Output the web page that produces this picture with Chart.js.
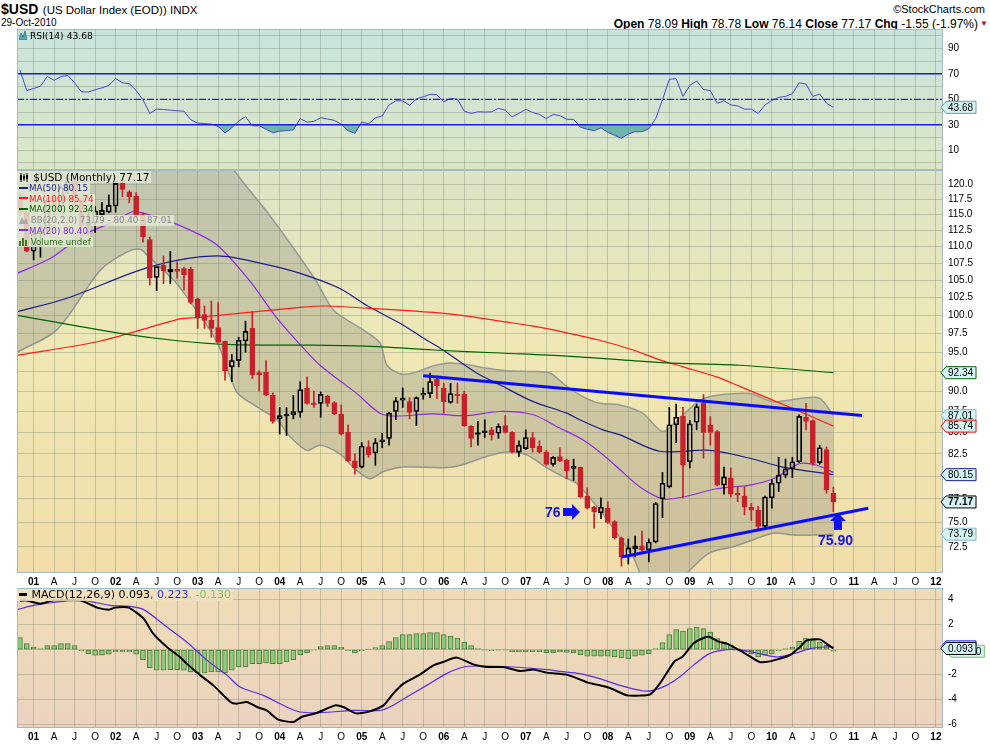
<!DOCTYPE html>
<html>
<head>
<meta charset="utf-8">
<script src="https://cdn.jsdelivr.net/npm/chart.js@4.4.0/dist/chart.umd.min.js"></script>
<style>
  body { margin: 0; background: #fff; width: 990px; height: 744px; position: relative; overflow: hidden; font-family: "Liberation Sans", Arial, sans-serif; }
  canvas { position: absolute; left: 0; }
  .t { position: absolute; white-space: nowrap; }
  .leg { position: absolute; font-family: "DejaVu Sans", Verdana, sans-serif; }
  .row { display: table; background: rgba(226,231,210,0.85); padding-right: 2px; }
  .sw { display: inline-block; width: 9px; height: 2px; vertical-align: middle; margin: 0 1px 0 2px; position: relative; top: -1px; }
</style>
</head>
<body>

<div class="t" style="left:1px;top:0;line-height:18px"><b style="font-size:14px">$USD</b> <span style="font-size:11.5px">(US Dollar Index (EOD)) INDX</span></div>
<div class="t" style="left:1px;top:17px;font-size:10px;line-height:12px">29-Oct-2010</div>
<div class="t" style="right:5px;top:2px;font-size:11px;line-height:14px">©StockCharts.com</div>
<div class="t" style="right:12px;top:17px;font-size:12px;line-height:14px"><b>Open</b> 78.09 <b>High</b> 78.78 <b>Low</b> 76.14 <b>Close</b> 77.17 <b>Chg</b> -1.55 (-1.97%)</div>
<div class="t" style="right:2px;top:19px;font-size:8px;color:#a0102a">&#9660;</div>

<canvas id="rsi" width="990" height="141" style="top:29px"></canvas>
<canvas id="main" width="990" height="419" style="top:170px"></canvas>
<canvas id="macd" width="990" height="156" style="top:588px"></canvas>

<div class="leg" style="left:19px;top:30px;font-size:9.2px;line-height:12px">
  <svg width="8" height="9" style="vertical-align:-1px"><polygon points="0,9 2,2 4,6 6,0 8,9" fill="#5aaaa2" stroke="#2b6f8f" stroke-width="0.8"/></svg> RSI(14) 43.68
</div>

<div class="leg" style="left:17px;top:171px">
  <div class="row" style="font-size:10.5px;line-height:12px;padding-left:2px"><svg width="11" height="9" style="vertical-align:-1px"><path d="M2 0V9M5 1V8M8 0V9" stroke="#000"/><rect x="1" y="2" width="2" height="5" fill="#000"/><rect x="4" y="3" width="2" height="3" fill="#000"/><rect x="7" y="2" width="2" height="4" fill="#000"/></svg> $USD (Monthly) 77.17</div>
  <div class="row" style="font-size:8.7px;line-height:10.7px"><span class="sw" style="background:#1c1c8a"></span><span style="color:#1c1c8a">MA(50) 80.15</span></div>
  <div class="row" style="font-size:8.7px;line-height:10.7px"><span class="sw" style="background:#ff1a1a"></span><span style="color:#ff1a1a">MA(100) 85.74</span></div>
  <div class="row" style="font-size:8.7px;line-height:10.7px"><span class="sw" style="background:#006400"></span><span style="color:#006400">MA(200) 92.34</span></div>
  <div class="row" style="font-size:8.7px;line-height:10.7px;padding-left:2px"><svg width="9" height="8" style="vertical-align:-1px"><polygon points="0,8 3,1 5,5 7,2 9,8" fill="#a8a8a8"/></svg><span style="color:#8a8a8a"> BB(20,2.0) 73.79 - 80.40 - 87.01</span></div>
  <div class="row" style="font-size:8.7px;line-height:10.7px"><span class="sw" style="background:#8a2be2"></span><span style="color:#8a2be2">MA(20) 80.40</span></div>
  <div class="row" style="font-size:8.7px;line-height:10.7px;padding-left:2px"><svg width="9" height="8" style="vertical-align:-1px"><rect x="0" y="3" width="2" height="5" fill="#3c7a22"/><rect x="3" y="0" width="2" height="8" fill="#3c7a22"/><rect x="6" y="2" width="2" height="6" fill="#3c7a22"/></svg><span style="color:#2e6e1a"> Volume undef</span></div>
</div>

<div class="leg" style="left:17px;top:589px;font-size:11px;line-height:12px">
  <div class="row" style="background:rgba(242,226,192,0.85)"><span class="sw" style="background:#000;height:3px;width:8px"></span> MACD(12,26,9) 0.093<span style="color:#3030d8">, 0.223</span><span style="color:#79c265">, -0.130</span></div>
</div>

<div class="t" style="left:545px;top:504px;font-size:14px;line-height:16px;font-weight:bold;color:#1414e6">76</div>
<div class="t" style="left:818px;top:532px;font-size:14px;line-height:16px;font-weight:bold;color:#1414e6">75.90</div>
<svg style="position:absolute;left:0;top:0" width="990" height="744">
  <polygon points="563,508 572,508 572,504 580,512 572,520 572,516 563,516" fill="#1010f0"/>
  <polygon points="838,513 846,521 842,521 842,530 834,530 834,521 830,521" fill="#1010f0"/>
</svg>

<script>
// ---- data ----
// monthly candles, Nov 2000 .. Oct 2010; x = months since Jan 2001
const firstMonth = -2;
const opens = [117.9,115.4,109.3,112.0,112.8,117.3,116.3,119.4,120.4,117.4,113.3,113.7,115.0,115.4,116.4,120.1,118.7,118.0,115.0,111.1,
  105.4,107.2,106.2,106.6,106.7,106.6,102.3,100.1,99.3,98.3,96.5,93.1,93.9,96.5,98.2,92.2,92.4,89.5,86.6,86.95,
  87.1,87.4,90.4,88.5,88.5,89.4,88.6,87.2,85.0,81.7,81.0,83.3,82.6,83.9,84.3,87.5,88.9,88.7,87.5,89.5,
  89.7,91.5,90.4,88.6,89.6,89.6,85.7,84.75,84.95,85.3,84.9,85.8,85.0,82.7,83.1,84.4,83.4,82.7,81.3,82.2,
  81.8,80.85,81.0,77.8,76.6,76.0,76.5,75.1,73.4,71.5,72.3,72.6,72.2,73.0,77.5,78.8,85.9,86.9,81.6,86.2,
  88.5,85.9,85.1,79.0,79.8,78.0,77.8,76.6,76.3,74.6,77.6,79.2,80.1,80.8,81.6,86.8,86.4,81.5,83.0,78.09];
const highs = [118.5,115.6,113.0,113.3,117.6,118.5,119.7,121.0,121.0,117.7,116.0,116.3,117.0,118.2,120.4,120.4,118.9,118.6,115.3,111.5,
  107.0,108.6,109.3,107.7,106.9,106.9,102.4,101.3,102.0,101.8,96.5,94.7,97.0,99.2,100.5,92.6,93.9,89.8,88.0,88.0,
  89.5,91.2,91.8,90.0,89.9,89.5,88.7,88.3,85.9,82.5,83.8,84.0,84.3,84.9,87.4,89.2,90.4,89.2,89.3,90.4,
  92.3,91.9,91.0,91.0,91.0,90.0,85.8,86.3,86.5,85.6,86.0,87.0,85.1,84.0,85.3,85.0,84.0,82.9,82.2,83.2,
  81.9,81.9,81.0,78.7,76.7,77.6,77.2,75.2,73.5,73.3,73.6,74.1,73.3,77.1,80.4,88.0,88.4,88.0,86.4,88.4,
  89.6,86.9,85.2,81.0,80.9,78.8,78.8,77.0,76.7,77.8,79.6,82.1,81.9,82.1,87.1,88.5,86.5,83.5,83.3,78.78];
const lows = [114.8,109.2,108.0,108.4,111.9,115.0,115.6,118.4,116.6,112.4,111.8,112.2,114.9,115.3,115.4,117.9,116.9,114.8,110.7,104.3,
  103.5,104.5,104.5,105.3,103.6,101.6,98.2,98.2,97.0,96.3,91.4,91.2,93.1,95.0,91.6,90.0,89.4,86.1,84.8,84.6,
  86.6,86.8,88.4,88.0,86.8,88.1,87.1,84.7,81.6,80.2,80.9,82.1,81.2,83.2,83.5,86.5,88.0,86.6,85.8,89.0,
  89.2,89.1,87.3,88.5,88.5,85.7,83.3,83.5,84.4,84.1,84.3,84.9,82.6,82.2,83.0,82.7,82.6,81.2,81.1,81.6,
  79.7,79.5,77.6,76.4,74.4,75.4,74.9,73.3,70.6,70.8,71.5,71.9,71.0,72.9,75.5,78.7,83.8,77.6,80.9,85.3,
  82.0,83.5,78.9,78.0,77.7,77.2,75.8,75.2,74.2,74.4,76.5,78.3,79.8,79.8,81.5,85.3,81.2,81.3,78.1,76.14];
const closes = [115.4,109.3,112.0,112.8,117.3,116.3,119.4,120.4,117.4,113.3,113.7,115.6,115.7,116.5,120.1,119.1,117.9,114.8,111.5,105.3,
  107.0,106.4,106.6,106.3,105.8,101.8,99.6,99.3,98.2,96.3,92.6,93.9,96.6,97.8,92.1,92.1,89.5,86.3,87.0,87.1,
  87.5,90.2,88.5,88.3,89.6,88.5,87.2,84.8,81.7,80.9,83.4,82.4,83.8,84.1,87.3,88.8,89.1,87.4,89.2,89.7,
  91.2,90.7,88.7,89.7,89.4,85.8,84.3,84.85,85.05,84.7,85.7,85.0,82.7,83.5,84.4,83.2,82.7,81.3,82.1,81.7,
  80.6,80.95,77.7,76.5,76.1,76.6,75.0,73.4,71.5,72.4,72.6,72.2,73.0,77.0,79.2,85.9,86.8,81.2,86.0,88.1,
  85.0,85.0,79.0,79.9,78.0,77.9,76.6,76.3,74.6,77.7,79.2,80.1,80.8,81.6,86.9,86.3,81.4,83.2,78.5,77.17];

// overlays (x = months since Jan 2001)
const ma50X = [-2.4,4.9,17.1,26.8,34.1,39.0,44.8,48.7,53.6,57.0,59.9,64.8,68.2,73.1,78.0,79.9,83.3,85.8,91.6,98.9,104.8,109.6,117];
const ma50Y = [100.5,102.4,107.0,108.6,107.3,106.0,103.8,101.4,98.9,96.9,95.3,92.3,90.8,88.7,87.3,86.5,85.3,84.7,82.8,82.9,82.0,81.0,80.15];
const ma100X = [-2.4,9.8,21.4,23.9,39.0,42.9,48.7,58.5,63.4,68.2,73.1,78.0,82.8,87.7,91.6,95.0,99.9,103.3,112.1,117];
const ma100Y = [94.6,96.5,99.5,99.7,101.1,101.3,101.0,100.4,99.9,99.2,98.5,97.6,96.6,95.3,94.0,93.1,91.8,90.6,87.5,85.74];
const ma200X = [-2.4,12.2,21.4,29.2,39.0,48.7,58.5,68.2,78.0,87.7,92.6,103.3,117];
const ma200Y = [100.0,97.6,96.5,96.0,95.95,95.8,95.3,94.9,94.5,93.9,93.6,93.3,92.34];
const ma20X = [-2.4,2.4,7.3,12.2,14.6,18.5,22.4,26.8,31.7,35.6,39.0,41.9,47.3,51.2,58.5,63.4,68.2,73.1,76.5,80.4,83.3,85.8,88.7,92.1,95.0,99.9,104.8,108.2,112.1,114.6,117];
const ma20Y = [106.0,108.2,111.8,114.1,115.5,114.4,112.8,110.3,104.8,99.6,96.0,93.3,89.7,87.1,87.2,87.0,87.5,87.1,85.7,84.1,82.4,80.7,78.8,77.5,77.7,78.6,79.0,79.7,81.4,81.2,80.4];
const bbUpX = [-2.4,10,20,27,29.2,31,34.1,38.0,41.4,43.9,48.7,50.7,51.7,53.6,55.5,58.4,60.9,63.4,66.3,69.2,73.1,75.5,78.0,80.4,82.8,85.8,89.1,92.1,95.0,97.5,100.0,104.8,108.2,112.1,115.0,117];
const bbUpY = [126,128,129,126,122.5,119.8,115.5,109.8,104.8,100.7,97.7,96.2,93.3,92.2,92.3,93.2,93.6,93.4,92.9,92.6,92.5,92.3,90.6,89.3,88.5,88.3,87.3,85.1,87.1,88.9,89.5,89.7,88.7,89.1,89.1,87.01];
const bbLoX = [-2.4,3.4,9.8,13.7,15.6,16.6,20.5,22.4,26.8,29.7,32.2,35.6,37.5,40.0,41.9,44.8,47.0,49.2,51.2,54.1,61.4,66.3,69.2,72.1,75.1,77.5,79.4,82.4,85.3,87.7,89.1,91.6,93.8,96.0,98.9,102.3,105.2,108.2,111.1,114.6,117];
const bbLoY = [95.0,98.0,106.5,109.2,109.6,108.7,105.0,102.6,96.4,89.9,88.3,86.5,84.5,82.9,83.5,82.5,80.8,79.7,80.5,81.0,81.0,82.2,82.7,82.4,80.9,79.9,79.2,76.7,73.9,71.5,69.5,68.3,68.8,70.2,71.9,72.5,73.2,73.9,73.7,73.7,73.79];
const resistX = [57.0, 121.2];
const resistY = [91.94, 87.0];
const supportX = [86.0, 122.1];
const supportY = [71.5, 76.5];

// RSI(14), one value per month from Nov 2000
const rsi = [73,56.8,58.5,60.3,67.9,64.9,67.9,68.7,63,55.8,55.8,57.5,59,60.9,66.2,63,62.2,57,49.6,38.9,
  42.3,42,41.5,41,40.7,34,31.3,31,30.5,28.7,23.6,27.6,33,36.4,29.2,29.2,26.5,23.8,24.9,25.5,
  26,34.8,32.1,32.7,35.6,34.5,33.5,30.3,25.4,23.3,32.1,30.8,35.4,37,45.6,48.8,48.8,45.3,50.4,52,
  53.9,53.6,48,50.7,50.1,40.7,38.9,40.2,40,40.2,42.9,41.5,36.2,38.9,42.1,39.7,38.1,34.8,38.1,37.2,
  34.3,34.3,28.1,26.5,25.4,27.6,24.1,21.7,19.5,22.8,24.6,24.6,26.8,34.8,49.6,65.7,66.2,52.3,60.9,64.4,
  57.7,56.8,46.9,48.8,45.6,44.8,42.3,42.3,38.9,45.6,49.1,51.5,52.3,54.4,63,61.9,52.3,54.2,46.9,43.68];
const rsiLevels = [70, 50, 30];

// MACD(12,26,9)
const macdX = [-2,-1.2,1.0,2.9,6.8,9.3,11.0,11.9,13.9,16.1,17.5,19.5,21.4,22.4,24.4,26.3,28.8,29.7,31.2,32.7,34.1,35.8,38.0,39.2,41.4,44.1,45.3,47.2,49.2,51.2,52.6,54.1,56.5,58.5,59.9,61.9,64.3,66.3,68.7,71.2,73.1,75.1,78.0,79.9,81.1,82.4,84.3,86.8,88.7,90.2,91.6,93.8,94.9,96.5,98.0,98.9,100.1,101.4,103.3,104.8,106.2,107.7,109.2,110.6,112.1,113.1,115.0,116.0,117];
const macdY = [3.9,3.94,3.68,3.94,3.94,3.36,3.2,3.36,3.36,2.48,1.28,0.21,-0.59,-1.12,-2.06,-2.86,-4.19,-4.32,-4.19,-4.59,-4.86,-5.6,-5.79,-5.39,-5.07,-4.46,-4.59,-5.1,-4.94,-4.46,-3.52,-2.72,-2.0,-1.26,-0.99,-0.64,-1.18,-1.39,-1.39,-1.71,-1.6,-1.84,-2.0,-2.38,-2.64,-2.8,-3.07,-3.66,-3.68,-3.58,-2.72,-0.91,-0.59,0.48,0.93,1.01,0.66,0.48,-0.06,-0.54,-0.99,-0.94,-0.72,-0.46,0.21,0.74,0.82,0.48,0.093];
const signalX = [-2.4,0,4.9,7.3,11.2,14.1,16.1,19.5,22.4,25.4,28.3,30.2,33.6,37.0,39.0,41.9,46.8,50.7,52.1,54.6,57.5,60.4,62.9,65.3,70.2,75.1,77.0,79.9,82.8,85.8,89.2,90.6,92.6,94.5,96.5,98.9,101.4,103.8,106.2,108.8,111.2,113.6,115.6,117];
const signalY = [3.2,3.54,3.89,3.94,3.54,3.46,3.2,1.81,0.61,-0.86,-2.06,-2.99,-3.66,-4.59,-4.99,-5.04,-4.86,-4.86,-4.59,-3.79,-2.86,-1.92,-1.39,-1.31,-1.39,-1.6,-1.74,-1.92,-2.32,-2.86,-3.31,-3.26,-2.86,-2.19,-1.26,-0.32,0,-0.06,-0.32,-0.59,-0.32,0.08,0.21,0.223];
const hist = [0.96,0.48,0.21,0.08,0.32,0.32,0.48,0.48,0.32,-0.1,-0.32,-0.45,-0.45,-0.37,-0.19,-0.19,-0.19,-0.37,-0.8,-1.44,
  -1.65,-1.65,-1.6,-1.6,-1.65,-1.79,-1.87,-1.87,-1.79,-1.79,-1.87,-1.65,-1.39,-1.39,-1.12,-1.12,-1.07,-1.12,-1.12,-0.99,
  -0.8,-0.4,-0.27,-0.05,0.24,0.32,0.32,0.19,-0.08,-0.27,-0.08,0.02,0.16,0.32,0.64,0.96,1.2,1.2,1.28,1.28,
  1.36,1.36,1.2,1.09,0.93,0.61,0.32,0.08,-0.02,-0.08,-0.02,-0.02,-0.16,-0.16,-0.16,-0.16,-0.16,-0.24,-0.24,-0.18,
  -0.22,-0.26,-0.4,-0.53,-0.53,-0.53,-0.53,-0.59,-0.67,-0.72,-0.53,-0.45,-0.32,0.08,0.56,1.2,1.6,1.49,1.68,1.81,
  1.68,1.41,0.88,0.61,0.35,0.08,-0.19,-0.32,-0.59,-0.45,-0.32,-0.08,0.08,0.21,0.67,0.93,0.88,0.61,0.35,-0.13];

// axis ticks and last-value tags
const xTickLabels = ['01','A','J','O','02','A','J','O','03','A','J','O','04','A','J','O','05','A','J','O','06','A','J','O',
  '07','A','J','O','08','A','J','O','09','A','J','O','10','A','J','O','11','A','J','O','12'];
const priceTicks = [72.5,75,77.5,80,82.5,85,87.5,90,92.5,95,97.5,100,102.5,105,107.5,110,112.5,115,117.5,120];
const rsiTicks = [0,10,20,30,40,50,60,70,80,90,100];
const rsiLabels = [10,30,50,70,90];
const macdTicks = [-6,-4,-2,0,2,4];
const priceTags = [
  {value: 92.34, border: '#006400'},
  {value: 87.01, border: '#8fb3c4'},
  {value: 85.74, border: '#ff0000'},
  {value: 80.15, border: '#1c1c8a'},
  {value: 77.17, border: '#000000', bold: true},
  {value: 73.79, border: '#8fb3c4'}
];
const rsiTags = [{value: 43.68, border: '#6a9fb0'}];
const macdTags = [
  {value: 0.223, border: '#2828e0'},
  {value: -0.130, border: '#79c265', dx: 5},
  {value: 0.093, border: '#000000'}
];

// ---- drawing ----
const FONT = '"Liberation Sans", Arial, sans-serif';
const GRID = 'rgba(95,105,85,0.28)';
const BORDER = '#a6babd';
const RED = '#c8202a';
const X_MIN = -2.43, X_MAX = 133.04;
const quarterTicks = xTickLabels.map((_, i) => i * 3);
const months = opens.map((_, i) => firstMonth + i);
const isUp = i => closes[i] >= opens[i];
const pts = (xs, ys) => xs.map((x, i) => ({x: x, y: ys[i]}));

function drawTag(ctx, x, y, text, border, bold, dx) {
  ctx.save();
  ctx.font = (bold ? 'bold ' : '') + '10px ' + FONT;
  const w = ctx.measureText(text).width + 5;
  const h = 12;
  x += dx || 0;
  ctx.beginPath();
  ctx.moveTo(x, y);
  ctx.lineTo(x + 5, y - h / 2);
  ctx.lineTo(x + 5 + w, y - h / 2);
  ctx.lineTo(x + 5 + w, y + h / 2);
  ctx.lineTo(x + 5, y + h / 2);
  ctx.closePath();
  ctx.fillStyle = '#d4f4f4';
  ctx.fill();
  ctx.strokeStyle = border;
  ctx.lineWidth = 1;
  ctx.stroke();
  ctx.fillStyle = '#000';
  ctx.textBaseline = 'middle';
  ctx.fillText(text, x + 7, y + 0.5);
  ctx.restore();
}

function panelPlugin(stops, tags, digits) {
  return {
    id: 'panel',
    beforeDraw(chart) {
      const {ctx, chartArea: a} = chart;
      const g = ctx.createLinearGradient(0, a.top, 0, a.bottom);
      stops.forEach(s => g.addColorStop(s[0], s[1]));
      ctx.save();
      ctx.fillStyle = g;
      ctx.fillRect(a.left, a.top, a.right - a.left, a.bottom - a.top);
      ctx.restore();
    },
    afterDraw(chart) {
      const {ctx, chartArea: a} = chart;
      ctx.save();
      ctx.strokeStyle = BORDER;
      ctx.lineWidth = 1;
      ctx.strokeRect(Math.round(a.left) + 0.5, Math.round(a.top) + 0.5, Math.round(a.right - a.left) - 1, Math.round(a.bottom - a.top) - 1);
      ctx.restore();
      tags.forEach(t => drawTag(ctx, a.right - 2, chart.scales.y.getPixelForValue(t.value), t.value.toFixed(digits), t.border, t.bold, t.dx));
    }
  };
}

function xScale(showLabels) {
  return {
    type: 'linear', min: X_MIN, max: X_MAX, offset: false,
    grid: {color: GRID, drawTicks: false, offset: false},
    border: {display: false},
    afterBuildTicks: s => { s.ticks = quarterTicks.map(v => ({value: v})); },
    afterFit: s => { s.height = showLabels ? 16 : 0; s.paddingLeft = 0; s.paddingRight = 0; },
    ticks: {
      display: showLabels, autoSkip: false, maxRotation: 0, padding: 3, color: '#000',
      font: c => ({family: FONT, size: 10, weight: (c.tick && c.tick.value % 12 === 0) ? 'bold' : 'normal'}),
      callback: v => xTickLabels[Math.round(v / 3)]
    }
  };
}

function yScale(type, min, max, ticks, label) {
  return {
    type: type, position: 'right', min: min, max: max,
    afterBuildTicks: s => { s.ticks = ticks.map(v => ({value: v})); },
    afterFit: s => { s.width = 47; s.paddingTop = 0; s.paddingBottom = 0; },
    grid: {color: GRID, drawTicks: false},
    border: {display: false},
    ticks: {color: '#000', padding: 5, autoSkip: false, font: {family: FONT, size: 10}, callback: label}
  };
}

const baseOptions = (scales) => ({
  responsive: false, animation: false, events: [],
  layout: {padding: {left: 17, right: 0, top: 0, bottom: 0}, autoPadding: false},
  plugins: {legend: {display: false}, tooltip: {enabled: false}},
  scales: scales
});

function lineDs(xs, ys, color, width, extra) {
  return Object.assign({type: 'line', data: pts(xs, ys), borderColor: color, borderWidth: width,
    pointRadius: 0, tension: 0.3, fill: false, clip: 0, order: 8}, extra || {});
}

// RSI panel
new Chart(document.getElementById('rsi'), {
  type: 'line',
  data: {datasets: [
    lineDs([X_MIN, X_MAX], [rsiLevels[0], rsiLevels[0]], '#1c1ce0', 1.5, {order: 0, tension: 0}),
    lineDs([X_MIN, X_MAX], [rsiLevels[1], rsiLevels[1]], '#2626c8', 1.2, {order: 0, tension: 0, borderDash: [7, 2, 2, 2]}),
    lineDs([X_MIN, X_MAX], [rsiLevels[2], rsiLevels[2]], '#1c1ce0', 1.5, {order: 0, tension: 0}),
    lineDs(months, rsi, '#4848d4', 1, {order: 1, tension: 0,
      fill: {target: {value: rsiLevels[2]}, above: 'rgba(0,0,0,0)', below: 'rgba(92,172,162,0.85)'}})
  ]},
  options: baseOptions({
    x: xScale(false),
    y: yScale('linear', -5.5, 105.2, rsiTicks, v => rsiLabels.includes(v) ? String(v) : '')
  }),
  plugins: [panelPlugin([[0, '#c9e4dd'], [1, '#dbe6c6']], rsiTags, 2)]
});

// price panel
const candleColor = c => isUp(c.dataIndex) ? '#000' : RED;
new Chart(document.getElementById('main'), {
  type: 'bar',
  data: {datasets: [
    lineDs(bbUpX, bbUpY, 'rgba(145,148,145,0.9)', 1.5, {order: 10, fill: '+1', backgroundColor: 'rgba(120,122,118,0.28)'}),
    lineDs(bbLoX, bbLoY, 'rgba(145,148,145,0.9)', 1.5, {order: 10}),
    lineDs(ma200X, ma200Y, '#006400', 1.2),
    lineDs(ma100X, ma100Y, '#ff1a1a', 1.2),
    lineDs(ma50X, ma50Y, '#1c1c8a', 1.2),
    lineDs(ma20X, ma20Y, '#8a2be2', 1.2),
    {type: 'bar', order: 5, grouped: false, barThickness: 1, clip: 0,
      data: months.map((m, i) => ({x: m, y: [Math.max(opens[i], closes[i]), highs[i]]})),
      backgroundColor: candleColor, borderWidth: 0},
    {type: 'bar', order: 5, grouped: false, barThickness: 1, clip: 0,
      data: months.map((m, i) => ({x: m, y: [lows[i], Math.min(opens[i], closes[i])]})),
      backgroundColor: candleColor, borderWidth: 0},
    {type: 'bar', order: 4, grouped: false, barThickness: 5, minBarLength: 2, clip: 0,
      data: months.map((m, i) => ({x: m, y: [opens[i], closes[i]]})),
      backgroundColor: c => isUp(c.dataIndex) ? 'rgba(0,0,0,0)' : RED,
      borderColor: candleColor, borderWidth: 1, borderSkipped: false},
    lineDs(resistX, resistY, '#0a0aff', 3, {order: 1, tension: 0}),
    lineDs(supportX, supportY, '#0a0aff', 3, {order: 1, tension: 0})
  ]},
  options: baseOptions({
    x: xScale(true),
    y: yScale('logarithmic', 69.92, 122.36, priceTicks, v => Number(v).toFixed(1))
  }),
  plugins: [panelPlugin([[0, '#dde3c7'], [0.45, '#eee8b4'], [1, '#f1ddaa']], priceTags, 2)]
});

// MACD panel
new Chart(document.getElementById('macd'), {
  type: 'bar',
  data: {datasets: [
    {type: 'bar', order: 3, grouped: false, barThickness: 5, clip: 0,
      data: months.map((m, i) => ({x: m, y: hist[i]})),
      backgroundColor: '#8fc977', borderColor: '#4f7a3e', borderWidth: 1, borderSkipped: false},
    lineDs(signalX, signalY, '#5a2de0', 1.2, {order: 2}),
    lineDs(macdX, macdY, '#000000', 2, {order: 1, tension: 0.2})
  ]},
  options: baseOptions({
    x: xScale(true),
    y: yScale('linear', -6.27, 4.93, macdTicks, v => String(v))
  }),
  plugins: [panelPlugin([[0, '#efdcb6'], [1, '#ebd3c0']], macdTags, 3)]
});
</script>
</body>
</html>
